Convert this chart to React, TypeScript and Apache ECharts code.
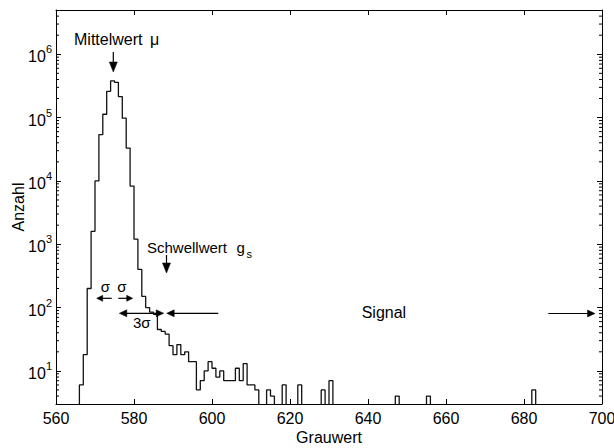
import React, { useEffect, useRef } from 'react';
import * as echarts from 'echarts';

const FONT = '"Liberation Sans", Arial, Helvetica, sans-serif';

// Histogram: bin left edge (Grauwert) and count (Anzahl); bins not listed are empty
const grauwert = [
  566, 567, 568, 569, 570, 571, 572, 573, 574, 575, 576, 577, 578, 579, 580,
  581, 582, 583, 584, 585, 586, 587, 588, 589, 590, 591, 592, 593, 594, 595,
  596, 597, 598, 599, 600, 601, 602, 603, 604, 605, 606, 607, 608, 609, 610,
  611, 614, 615, 618, 622, 628, 630, 647, 655, 682,
];
const anzahl = [
  6, 18, 200, 1600, 10000, 54000, 113000, 260000, 380000, 360000, 215000, 98000, 33000, 8300, 1200,
  400, 150, 100, 85, 78, 45, 42, 38, 25, 18, 26, 18, 20, 14, 14,
  5, 7, 10, 14, 11, 8, 10, 7, 7, 7, 11, 7, 13, 6, 6,
  5, 5, 4, 6, 6, 5, 7, 4, 4, 5,
];

const xTicks = [560, 580, 600, 620, 640, 660, 680, 700];
const yRange = [3, 5e6];

export default function App() {
  const ref = useRef<HTMLDivElement>(null);

  useEffect(() => {
    const chart = echarts.init(ref.current!, null, { renderer: 'svg' });
    const xMin = xTicks[0];
    const xMax = xTicks[xTicks.length - 1];

    const countByBin = new Map<number, number>();
    grauwert.forEach((g, i) => countByBin.set(g, anzahl[i]));
    const belowAxis = 0.5; // empty bins fall below the log axis and get clipped
    const steps: [number, number][] = [];
    for (let g = xMin; g < xMax; g++) {
      const c = countByBin.get(g) ?? 0;
      steps.push([g, c > 0 ? c : belowAxis]);
    }
    steps.push([xMax, steps[steps.length - 1][1]]);

    const minorTicks: [number, number][] = [];
    for (let e = 0; e <= 6; e++) {
      for (let k = 2; k <= 9; k++) {
        const v = k * Math.pow(10, e);
        if (v > yRange[0] && v < yRange[1]) minorTicks.push([xMin, v]);
      }
    }

    const black = '#000';
    const lw = 1.2;
    const txt = (text: string, x: number, y: number, size: number, align = 'left') => ({
      type: 'text',
      x,
      y,
      z: 100,
      style: { text, fill: black, font: `${size}px ${FONT}`, align, verticalAlign: 'middle' },
    });
    const seg = (x1: number, y1: number, x2: number, y2: number) => ({
      type: 'line',
      z: 100,
      shape: { x1, y1, x2, y2 },
      style: { stroke: black, lineWidth: lw },
    });
    const tri = (pts: number[][]) => ({
      type: 'polygon',
      z: 100,
      shape: { points: pts },
      style: { fill: black, stroke: black, lineWidth: 0.5 },
    });
    const headL = (x: number, y: number, len = 7, hw = 3.5) => tri([[x, y], [x + len, y - hw], [x + len, y + hw]]);
    const headR = (x: number, y: number, len = 7, hw = 3.5) => tri([[x, y], [x - len, y - hw], [x - len, y + hw]]);
    const headD = (x: number, y: number, len = 10, hw = 4) => tri([[x, y], [x - hw, y - len], [x + hw, y - len]]);

    const graphic = [
      txt('Mittelwert', 74, 39.5, 16),
      txt('μ', 150, 39.5, 16),
      seg(113.3, 52, 113.3, 64),
      headD(113.3, 72),
      txt('Schwellwert', 147, 247.3, 15),
      txt('g', 236.5, 247.3, 15),
      txt('s', 246.5, 254.2, 11),
      seg(166.5, 255, 166.5, 265),
      headD(166.5, 273),
      txt('σ', 100.7, 286.3, 15),
      txt('σ', 117.3, 286.3, 15),
      seg(102, 298.3, 111.7, 298.3),
      headL(96.7, 298.3, 6, 3),
      seg(118.3, 298.3, 127, 298.3),
      headR(132.7, 298.3, 6, 3),
      seg(125, 313.3, 158, 313.3),
      headL(119.3, 313.3, 7.5, 3.5),
      headR(163.7, 313.3, 7.5, 3.5),
      txt('3σ', 133, 322.8, 15),
      seg(172, 313.3, 218.3, 313.3),
      headL(166.7, 313.3, 7.5, 3.5),
      txt('Signal', 361.7, 312.7, 16),
      seg(548.3, 313.5, 589, 313.5),
      headR(595, 313.5, 7.5, 3.5),
    ];

    const axisCommon = {
      axisLine: { show: true, onZero: false, lineStyle: { color: black, width: 1 } },
      splitLine: { show: false },
    };

    chart.setOption({
      animation: false,
      grid: { left: 56, right: 12, top: 10, bottom: 44, containLabel: false, outerBoundsMode: 'none' },
      xAxis: [
        {
          type: 'value',
          min: xMin,
          max: xMax,
          interval: 20,
          position: 'bottom',
          ...axisCommon,
          axisTick: { inside: true, length: 5, lineStyle: { color: black } },
          axisLabel: { color: black, fontSize: 16, fontFamily: FONT, margin: 6, hideOverlap: false },
          name: 'Grauwert',
          nameLocation: 'middle',
          nameGap: 25,
          nameMoveOverlap: false,
          nameTextStyle: { color: black, fontSize: 16, fontFamily: FONT },
        },
        {
          type: 'value',
          min: xMin,
          max: xMax,
          interval: 20,
          position: 'top',
          ...axisCommon,
          axisTick: { inside: true, length: 5, lineStyle: { color: black } },
          axisLabel: { show: false },
        },
      ],
      yAxis: [
        {
          type: 'log',
          logBase: 10,
          min: yRange[0],
          max: yRange[1],
          position: 'left',
          ...axisCommon,
          axisTick: { inside: true, length: 5, lineStyle: { color: black } },
          axisLabel: {
            margin: 4,
            formatter: (v: number) => {
              const l = Math.log10(v);
              const r = Math.round(l);
              if (Math.abs(l - r) > 1e-6) return '';
              return `{b|10}{s|${r}}`;
            },
            rich: {
              b: { fontSize: 16, fontFamily: FONT, color: black, lineHeight: 21, verticalAlign: 'bottom' },
              s: { fontSize: 11, fontFamily: FONT, color: black, verticalAlign: 'top' },
            },
          },
          name: 'Anzahl',
          nameLocation: 'middle',
          nameGap: 30,
          nameMoveOverlap: false,
          nameTextStyle: { color: black, fontSize: 16, fontFamily: FONT },
        },
        {
          type: 'log',
          logBase: 10,
          min: yRange[0],
          max: yRange[1],
          position: 'right',
          ...axisCommon,
          axisTick: { inside: true, length: 5, lineStyle: { color: black } },
          axisLabel: { show: false },
        },
      ],
      series: [
        {
          type: 'line',
          data: steps,
          step: 'end',
          symbol: 'none',
          showSymbol: false,
          clip: true,
          lineStyle: { color: '#111', width: 1.3 },
          z: 3,
          silent: true,
        },
        {
          type: 'custom',
          data: minorTicks,
          silent: true,
          clip: false,
          z: 4,
          renderItem: (params: any, api: any) => {
            const v = api.value(1);
            const l = api.coord([xMin, v]);
            const r = api.coord([xMax, v]);
            return {
              type: 'group',
              children: [
                { type: 'line', shape: { x1: l[0], y1: l[1], x2: l[0] + 3, y2: l[1] }, style: { stroke: black, lineWidth: 1 } },
                { type: 'line', shape: { x1: r[0] - 3, y1: r[1], x2: r[0], y2: r[1] }, style: { stroke: black, lineWidth: 1 } },
              ],
            };
          },
        },
      ],
      graphic,
    });

    return () => chart.dispose();
  }, []);

  return (
    <div
      ref={ref}
      style={{ position: 'fixed', left: 0, top: 0, width: 614, height: 448, background: '#fff' }}
    />
  );
}
